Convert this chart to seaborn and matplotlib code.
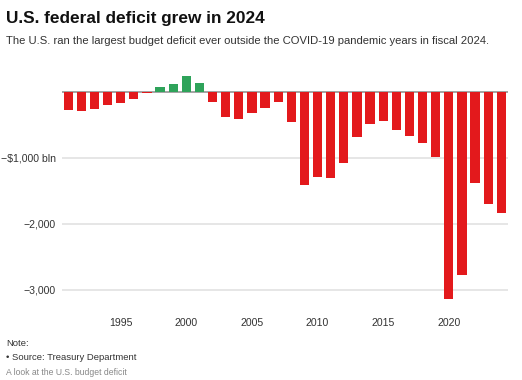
import pandas as pd
import matplotlib.pyplot as plt
import seaborn as sns

YEARS = list(range(1991, 2025))
DEFICIT = [-269, -290, -255, -203, -164, -107, -22, 69, 126, 236, 128,
           -158, -378, -413, -318, -248, -161, -459, -1413, -1294, -1300,
           -1077, -680, -485, -442, -585, -665, -779, -984, -3132, -2775,
           -1376, -1695, -1833]
Y_TICKS = [-3000, -2000, -1000, 0]
Y_LABELS = ['\u22123,000', '\u22122,000', '\u2212$1,000 bln', '']
X_TICKS = [1995, 2000, 2005, 2010, 2015, 2020]

RED = '#e3191c'
GREEN = '#2ea35a'


def build_df():
    df = pd.DataFrame({'year': YEARS, 'deficit': DEFICIT})
    df['sign'] = ['surplus' if v > 0 else 'deficit' for v in df['deficit']]
    return df


def main():
    sns.set_style('white')
    plt.rcParams['font.family'] = ['Liberation Sans', 'DejaVu Sans']

    df = build_df()
    fig = plt.figure(figsize=(5.22, 3.80), dpi=100)
    ax = fig.add_axes([0.118, 0.1847, 0.855, 0.6258])

    sns.barplot(data=df, x='year', y='deficit', hue='sign', native_scale=True,
                palette={'deficit': RED, 'surplus': GREEN}, width=0.7,
                saturation=1, legend=False, ax=ax, edgecolor='none', zorder=3)

    ax.set_xlim(1990.5, 2024.5)
    ax.set_ylim(-3300, 300)
    ax.set_yticks(Y_TICKS)
    ax.set_yticklabels(Y_LABELS)
    ax.set_xticks(X_TICKS)
    ax.set_xticklabels([str(t) for t in X_TICKS])
    ax.grid(axis='y', color='#e2e2e2', linewidth=1.2, zorder=0)
    ax.axhline(0, color='#999999', linewidth=1.2, zorder=2)
    ax.tick_params(axis='both', length=0, labelsize=7.6, labelcolor='#333333')
    ax.tick_params(axis='y', pad=4)
    ax.tick_params(axis='x', pad=6)
    ax.set_xlabel('')
    ax.set_ylabel('')
    sns.despine(ax=ax, left=True, bottom=True)

    fig.text(0.012, 0.952, 'U.S. federal deficit grew in 2024', fontsize=12.4,
             fontweight='bold', color='#111111', va='center')
    fig.text(0.012, 0.893, 'The U.S. ran the largest budget deficit ever outside '
             'the COVID-19 pandemic years in fiscal 2024.', fontsize=8.1,
             color='#333333', va='center')
    fig.text(0.012, 0.095, 'Note:', fontsize=6.8, color='#333333', va='center')
    fig.text(0.012, 0.06, '\u2022 Source: Treasury Department', fontsize=6.8,
             color='#333333', va='center')
    fig.text(0.012, 0.02, 'A look at the U.S. budget deficit', fontsize=6.2,
             color='#888888', va='center')

    fig.savefig('out.png', dpi=100)


main()
